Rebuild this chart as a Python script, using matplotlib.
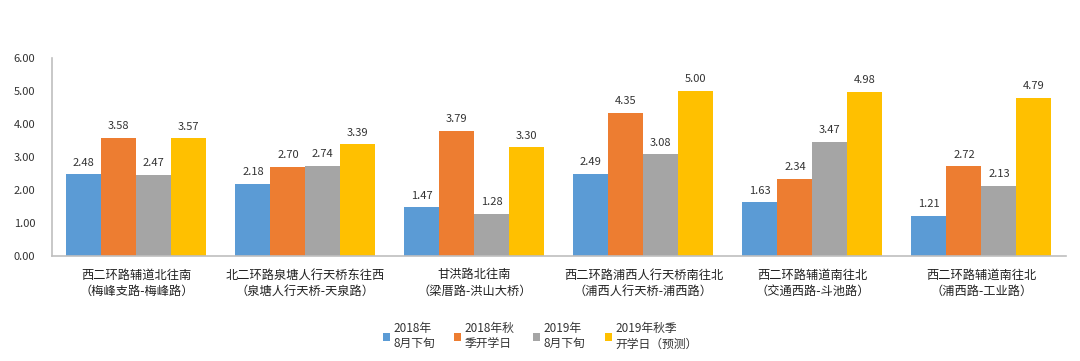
import numpy as np
import matplotlib.pyplot as plt

plt.rcParams['font.family'] = ['Noto Sans CJK SC', 'DejaVu Sans']

categories = ['西二环路辅道北往南\n（梅峰支路-梅峰路）',
              '北二环路泉塘人行天桥东往西\n（泉塘人行天桥-天泉路）',
              '甘洪路北往南\n（梁厝路-洪山大桥）',
              '西二环路浦西人行天桥南往北\n（浦西人行天桥-浦西路）',
              '西二环路辅道南往北\n（交通西路-斗池路）',
              '西二环路辅道南往北\n（浦西路-工业路）']
series_names = ['2018年\n8月下旬', '2018年秋\n季开学日', '2019年\n8月下旬', '2019年秋季\n开学日（预测）']
v2018_aug = [2.48, 2.18, 1.47, 2.49, 1.63, 1.21]
v2018_school = [3.58, 2.70, 3.79, 4.35, 2.34, 2.72]
v2019_aug = [2.47, 2.74, 1.28, 3.08, 3.47, 2.13]
v2019_school = [3.57, 3.39, 3.30, 5.00, 4.98, 4.79]
colors = ['#5B9BD5', '#ED7D31', '#A5A5A5', '#FFC000']

fig = plt.figure(figsize=(10.8, 3.61), dpi=100)
ax = fig.add_axes([0.048, 0.291, 0.939, 0.548])

x = np.arange(len(categories))
w = 0.207
for i, (vals, name, c) in enumerate(zip([v2018_aug, v2018_school, v2019_aug, v2019_school], series_names, colors)):
    pos = x + (i - 1.5) * w
    ax.bar(pos, vals, width=w, color=c, label=name)
    for p, v in zip(pos, vals):
        ax.text(p, v + 0.2, f'{v:.2f}', ha='center', va='bottom', fontsize=8, color='#333333')

ax.set_xlim(-0.5, len(categories) - 0.5)
ax.set_ylim(0, 6)
ax.set_yticks(np.arange(0, 6.01, 1))
ax.set_yticklabels([f'{t:.2f}' for t in np.arange(0, 6.01, 1)], fontsize=8, color='#333333')
ax.set_xticks(x)
ax.set_xticklabels(categories, fontsize=8.8, color='#222222', linespacing=1.35)
ax.tick_params(axis='both', length=0)
ax.tick_params(axis='y', pad=12)
ax.tick_params(axis='x', pad=9)
for s in ['top', 'right']:
    ax.spines[s].set_visible(False)
for s in ['left', 'bottom']:
    ax.spines[s].set_color('#BFBFBF')
    ax.spines[s].set_linewidth(1.2)

leg = fig.legend(loc='lower center', bbox_to_anchor=(0.5, 0.0), ncol=4, frameon=False,
                 fontsize=8.5, handlelength=0.6, handleheight=0.6, handletextpad=0.3,
                 columnspacing=1.6, labelspacing=0.3)
for t in leg.get_texts():
    t.set_color('#333333')

fig.savefig('out.png', dpi=100)
